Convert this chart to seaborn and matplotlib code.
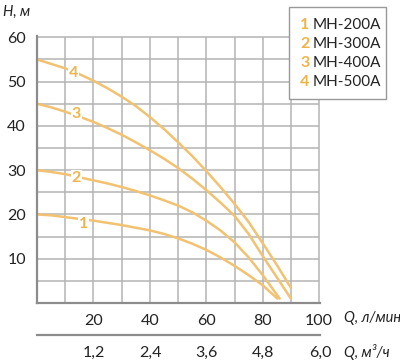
import matplotlib
matplotlib.use('Agg')
import matplotlib.pyplot as plt
from matplotlib.patches import Rectangle
import pandas as pd
import seaborn as sns

# flow, l/min, and head, m
q_common = [0, 5, 10, 15, 20, 25, 30, 35, 40, 45, 50, 55, 60, 65, 70, 75, 80]
h_200 = [20.0, 19.8, 19.4, 19.0, 18.6, 18.1, 17.6, 17.0, 16.4, 15.6, 14.6, 13.4, 12.0, 10.3, 8.4, 6.3, 4.0]
h_300 = [30.0, 29.6, 29.1, 28.4, 27.7, 27.0, 26.2, 25.3, 24.3, 23.2, 22.0, 20.5, 18.6, 16.4, 13.7, 10.3, 6.3]
h_400 = [45.0, 44.2, 43.2, 42.1, 40.9, 39.5, 38.0, 36.3, 34.5, 32.6, 30.5, 28.1, 25.5, 22.7, 19.7, 15.6, 10.6]
h_500 = [55.0, 54.0, 53.0, 51.7, 50.2, 48.5, 46.6, 44.5, 42.0, 39.3, 36.3, 33.2, 29.8, 26.2, 22.4, 18.3, 13.5]
# last points of each curve
q_tail = [[85.2], [86.0], [85.0, 90.0], [85.0, 90.0]]
h_tail = [[1.0], [1.0], [5.8, 1.0], [8.6, 3.4]]

models = ['МН-200А', 'МН-300А', 'МН-400А', 'МН-500А']
numbers = ['1', '2', '3', '4']
x_ticks = [20, 40, 60, 80, 100]
y_ticks = [10, 20, 30, 40, 50, 60]
m3_ticks = [0, 1.2, 2.4, 3.6, 4.8, 6.0]
m3_labels = ['', '1,2', '2,4', '3,6', '4,8', '6,0']
grid_q = [10, 20, 30, 40, 50, 60, 70, 80, 90, 100]
grid_h = [5, 10, 15, 20, 25, 30, 35, 40, 45, 50, 55, 60]

# where the curve numbers sit on the chart
label_q = [16.4, 14.0, 14.0, 12.8]
label_h = [17.9, 28.2, 42.6, 52.0]

CURVE = '#F2C270'
NUM = '#F0B44A'
GRID = '#B4B4B4'
AXIS = '#8C8C8C'
TEXT = '#222222'

sns.set_style('white')
plt.rcParams['font.family'] = ['Lato', 'DejaVu Sans']

rows = []
for name, h, qt, ht in zip(models, [h_200, h_300, h_400, h_500], q_tail, h_tail):
    for q, v in zip(q_common + qt, h + ht):
        rows.append({'model': name, 'q': q, 'h': v})
df = pd.DataFrame(rows)

fig = plt.figure(figsize=(4.0, 3.62), dpi=100)
ax = fig.add_axes([37 / 400, 59 / 362, 283 / 400, 267 / 362])

ax.vlines(grid_q, 0, 60, colors=GRID, linewidth=1.1, zorder=1)
ax.hlines(grid_h, 0, 100, colors=GRID, linewidth=1.1, zorder=1)

sns.lineplot(data=df, x='q', y='h', hue='model', palette=[CURVE] * 4,
             legend=False, sort=False, estimator=None, linewidth=1.8, ax=ax, zorder=3)

ax.set_xlim(0, 100.3)
ax.set_ylim(0, 60.3)
ax.set_xticks(x_ticks)
ax.set_yticks(y_ticks)

ax.tick_params(axis='both', length=0, labelsize=11.5, colors=TEXT)
ax.tick_params(axis='x', pad=8)
ax.tick_params(axis='y', pad=8)
ax.set_xlabel('')
ax.set_ylabel('')
for side in ['top', 'right']:
    ax.spines[side].set_visible(False)
for side in ['left', 'bottom']:
    ax.spines[side].set_color(AXIS)
    ax.spines[side].set_linewidth(1.6)
    ax.spines[side].set_zorder(4)

for n, x, y in zip(numbers, label_q, label_h):
    ax.text(x, y, n, color=NUM, fontsize=11.5, fontweight='bold', ha='center', va='center',
            zorder=5, bbox=dict(facecolor='white', edgecolor='none', pad=0.6))

fig.text(3 / 400, 1 - 12 / 362, 'H, м', fontsize=10.5, style='italic', color=TEXT,
         ha='left', va='center')
fig.text(344 / 400, 1 - 318 / 362, 'Q, л/мин', fontsize=10.5, style='italic', color=TEXT,
         ha='left', va='center')
fig.text(344 / 400, 1 - 352 / 362, 'Q, м³/ч', fontsize=10.5, style='italic', color=TEXT,
         ha='left', va='center')

# second flow scale, m3/h
ax2 = fig.add_axes([37 / 400, 1 - 335 / 362, 283 / 400, 0.001])
ax2.set_xlim(0, 6)
ax2.set_yticks([])
ax2.set_xticks(m3_ticks)
ax2.set_xticklabels(m3_labels)
ax2.tick_params(axis='x', direction='in', length=7, width=1.3, color=AXIS,
                labelsize=11.5, labelcolor=TEXT, pad=8)
for side in ['top', 'right', 'left']:
    ax2.spines[side].set_visible(False)
ax2.spines['bottom'].set_color(AXIS)
ax2.spines['bottom'].set_linewidth(1.6)
ax2.patch.set_alpha(0)

# legend box
fig.patches.append(Rectangle((289 / 400, 1 - 99 / 362), 97 / 400, 92 / 362,
                             transform=fig.transFigure, facecolor='white',
                             edgecolor='#999999', linewidth=1, zorder=5))
for i, (n, name) in enumerate(zip(numbers, models)):
    y = 1 - (25 + 19 * i) / 362
    fig.text(305 / 400, y, n, color=NUM, fontsize=11.5, fontweight='bold', ha='center',
             va='center', zorder=6)
    fig.text(313 / 400, y, name, color=TEXT, fontsize=11, ha='left', va='center', zorder=6)

fig.savefig('out.png', dpi=100)
